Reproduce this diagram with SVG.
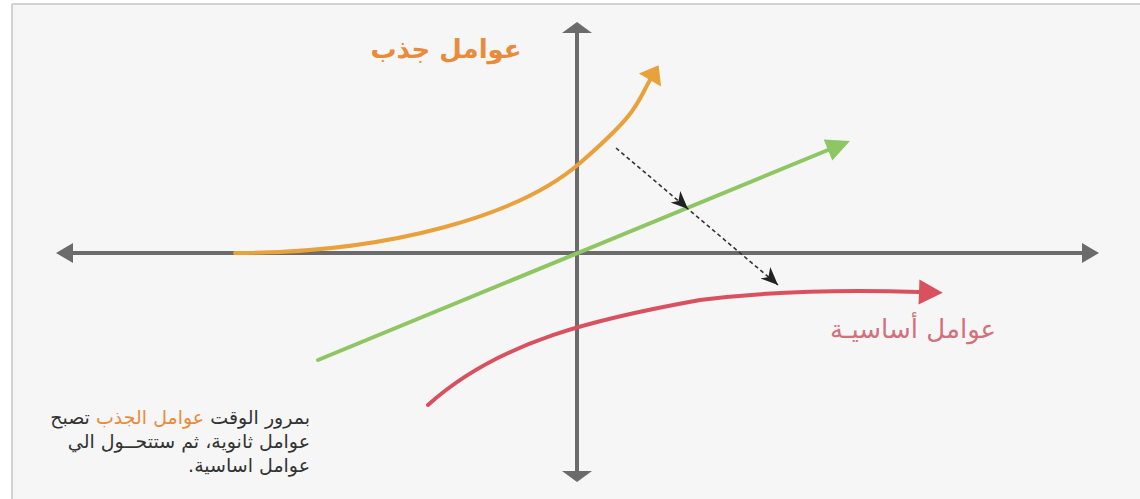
<svg xmlns="http://www.w3.org/2000/svg" width="1140" height="499" viewBox="0 0 1140 499">
<defs>
<style>
.axis{stroke:#6b6b6b;stroke-width:4;fill:none}
.axhead{fill:#6b6b6b}
.curve{fill:none;stroke-width:4;stroke-linecap:round}
.ar{font-family:"DejaVu Sans",sans-serif;direction:rtl}
</style>
<marker id="mOrange" markerUnits="userSpaceOnUse" markerWidth="30" markerHeight="30" viewBox="-2 -14 22 28" refX="0" refY="0" orient="auto"><path d="M0,-12 L16,0 L0,12 z" fill="#e9a13c"/></marker>
<marker id="mGreen" markerUnits="userSpaceOnUse" markerWidth="30" markerHeight="30" viewBox="-2 -12 24 24" refX="0" refY="0" orient="auto"><path d="M0,-9 L19,0 L0,9 z" fill="#8dc663"/></marker>
<marker id="mRed" markerUnits="userSpaceOnUse" markerWidth="30" markerHeight="30" viewBox="-2 -12 24 24" refX="0" refY="0" orient="auto"><path d="M0,-10 L19,0 L0,10 z" fill="#d9505e"/></marker>
<marker id="mDash" markerUnits="userSpaceOnUse" markerWidth="20" markerHeight="20" viewBox="-14 -8 16 16" refX="0" refY="0" orient="auto"><path d="M0,0 L-14,-7 L-10,0 L-14,5 z" fill="#222"/></marker>
</defs>
<rect x="0" y="0" width="1140" height="499" fill="#ffffff"/>
<rect x="12" y="4" width="1128" height="495" fill="#f6f6f6"/>
<line x1="12" y1="4" x2="1140" y2="4" stroke="#d2d2d2" stroke-width="2"/>
<line x1="12" y1="4" x2="12" y2="499" stroke="#d2d2d2" stroke-width="2"/>

<g id="axes">
<line class="axis" x1="70" y1="253" x2="1086" y2="253"/>
<polygon class="axhead" points="56,253 73,243 73,263"/>
<polygon class="axhead" points="1099,253 1082,243 1082,263"/>
<line class="axis" x1="577" y1="30" x2="577" y2="474"/>
<polygon class="axhead" points="577,22 562,33 592,33"/>
<polygon class="axhead" points="577,482 562,471 592,471"/>
</g>

<g id="connectors">
<path id="orange-curve" class="curve" stroke="#e9a13c" d="M235,253 C390,253 520,215 580,163 S636,104 650,80" marker-end="url(#mOrange)"/>
<path id="green-line" class="curve" stroke="#8dc663" d="M318,360 L828,150" marker-end="url(#mGreen)"/>
<path id="red-curve" class="curve" stroke="#d9505e" d="M428,405 C500,340 600,318 700,300 C780,290 860,290 919,292" marker-end="url(#mRed)"/>
<path id="dashed" fill="none" stroke="#333" stroke-width="1.6" stroke-dasharray="4 3" d="M616,148 L688,209 L778,285" marker-mid="url(#mDash)" marker-end="url(#mDash)"/>
</g>

<g id="label-pull">
<text class="ar" x="446" y="58" text-anchor="middle" font-size="26" font-weight="bold" fill="#ea8b3a">عوامل جذب</text>
</g>
<g id="label-basic">
<text class="ar" x="913" y="338" text-anchor="middle" font-size="26" fill="#d4707c">عوامل أساسيـة</text>
</g>
<g id="note">
<text class="ar" x="310" y="424" text-anchor="start" font-size="19" fill="#333">بمرور الوقت  <tspan fill="#ea8b3a">عوامل الجذب</tspan> تصبح</text>
<text class="ar" x="310" y="448" text-anchor="start" font-size="19" fill="#333">عوامل ثانوية، ثم ستتحــول الي</text>
<text class="ar" x="310" y="472" text-anchor="start" font-size="19" fill="#333">عوامل اساسية.</text>
</g>
</svg>
